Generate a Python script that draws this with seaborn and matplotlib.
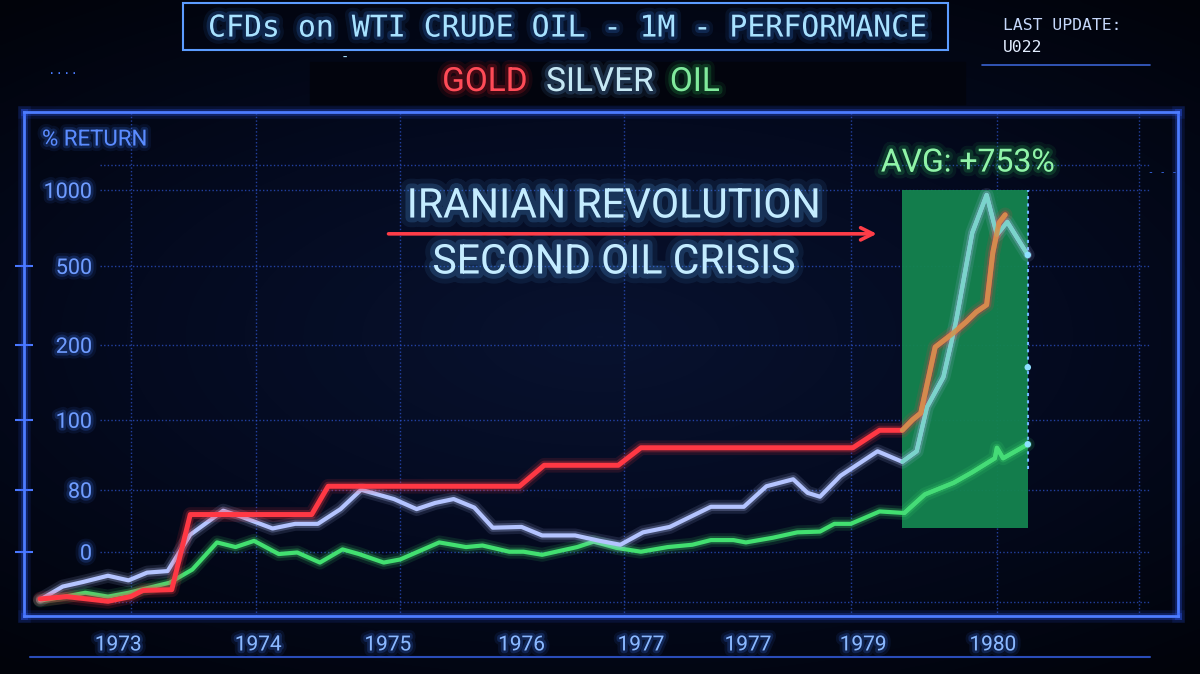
import matplotlib
matplotlib.use("Agg")
import matplotlib.pyplot as plt
import matplotlib.patheffects as pe
from matplotlib.patches import Rectangle
from matplotlib.lines import Line2D
import numpy as np
import pandas as pd
import seaborn as sns

# ---- data (% return), t = period index along the time axis ----
gold_t = [0, 1.3, 3.3, 4.4, 5.0, 6.4, 7.3, 13.2, 14.0, 23.3, 24.5, 28.1, 29.2, 39.5, 40.8, 41.9,
          42.4, 42.8, 43.5, 44.4, 45.0, 45.5, 46.0, 46.3, 46.6, 46.9]
gold_v = [-61, -58, -64, -58, -50, -49, 48, 48, 81, 81, 87, 87, 92, 92, 97, 97,
          100, 109, 197, 246, 287, 325, 352, 586, 783, 836]

silver_t = [0, 1.1, 2.1, 3.3, 4.3, 5.2, 6.2, 7.3, 8.9, 9.7, 11.3, 12.4, 13.5, 14.6, 15.6, 17.2,
            18.3, 19.2, 20.1, 21.1, 22.0, 23.4, 24.4, 26.0, 27.2, 28.2, 29.3, 30.6, 32.6, 34.2,
            35.3, 36.6, 37.3, 37.9, 38.9, 40.7, 41.9, 42.6, 43.1, 43.9, 44.5, 45.3, 46.0, 46.5,
            47.0, 48.0]
silver_v = [-62, -45, -39, -31, -37, -27, -25, 22, 53, 46, 30, 36, 36, 55, 80, 68,
            55, 63, 68, 57, 31, 32, 21, 21, 14, 9, 25, 32, 58, 58,
            81, 83, 76, 71, 84, 91, 88, 91, 117, 157, 284, 717, 967, 704,
            790, 572]

oil_t = [0, 1.2, 2.2, 3.3, 4.3, 6.3, 7.4, 8.6, 9.5, 10.4, 11.6, 12.5, 13.6, 14.7, 15.5, 16.7,
         17.5, 19.4, 20.7, 21.5, 22.8, 23.5, 24.4, 26.1, 26.9, 28.0, 29.2, 30.5, 31.7, 32.6,
         33.7, 34.3, 35.6, 36.8, 37.9, 38.6, 39.4, 40.8, 42.0, 43.0, 44.4, 45.3, 46.4, 46.5,
         46.8, 48.0]
oil_v = [-63, -58, -53, -58, -53, -40, -23, 12, 6, 14, -3, -1, -14, 3, -3, -14,
         -10, 12, 6, 8, 0, 0, -4, 6, 13, 5, 0, 6, 9, 15,
         15, 12, 18, 25, 26, 36, 36, 52, 50, 74, 82, 85, 89, 92,
         89, 93]

year_ticks = [3.8, 10.6, 16.9, 23.4, 29.2, 34.4, 40.0, 46.3]
year_labels = ["1973", "1974", "1975", "1976", "1977", "1977", "1979", "1980"]
vgrid_t = [4.4, 10.5, 17.5, 28.4, 39.4, 46.5, 53.4]

y_ticks = [0, 80, 100, 200, 500, 1000]
y_extra_grid = [-65, 1165]

spike_start, spike_end = 41.9, 48.0      # highlighted window
spike_low, spike_high = 31, 1000
end_dots = [572, 170, 93]
arrow_from, arrow_to, arrow_level = 16.8, 40.8, 711

# non-uniform return axis (screen-style spacing of the labels)
SCALE_V = [-200, 0, 80, 100, 200, 500, 1000, 3000]
SCALE_P = [-155, 0, 62, 132, 207, 286, 362, 666]


def fwd(v):
    return np.interp(v, SCALE_V, SCALE_P)


def inv(p):
    return np.interp(p, SCALE_P, SCALE_V)


def glow(c, w):
    return [pe.Stroke(linewidth=w + 7, foreground=c, alpha=0.12),
            pe.Stroke(linewidth=w + 3, foreground=c, alpha=0.25),
            pe.Normal()]


def tglow(c, w=4, a=0.18):
    return [pe.Stroke(linewidth=w * 2, foreground=c, alpha=a * 0.45),
            pe.Stroke(linewidth=w, foreground=c, alpha=a),
            pe.Normal()]


def fx(x):
    return x / 1200


def fy(y):
    return 1 - y / 674


sns.set_theme(style="dark")
plt.rcParams["font.family"] = ["Roboto", "DejaVu Sans"]

fig = plt.figure(figsize=(12, 6.74), dpi=100)
fig.patch.set_facecolor("#02050f")

# vignette background
bg = fig.add_axes([0, 0, 1, 1], zorder=-10)
gx, gy = np.meshgrid(np.linspace(-1, 1, 240), np.linspace(-1, 1, 135))
rr = np.sqrt((gx * 0.9) ** 2 + (gy * 1.1) ** 2)
bg.imshow(-rr, cmap=sns.blend_palette(["#01030a", "#040a1f", "#08122f"], as_cmap=True),
          aspect="auto", extent=[0, 1, 0, 1], interpolation="bicubic")
bg.set_axis_off()

ax = fig.add_axes([fx(24), fy(616), fx(1178 - 24), (616 - 112) / 674])
ax.set_facecolor("none")
ax.set_yscale("function", functions=(fwd, inv))
ax.set_xlim(-0.78, 55.3)
ax.set_ylim(-83, 1513)

# grid
grid_kw = dict(color="#3058d8", lw=1.0, ls=(0, (1, 1.6)), alpha=0.7, zorder=1)
for v in y_ticks + y_extra_grid:
    ax.axhline(v, xmin=0.066, xmax=0.976, **grid_kw)
for t in vgrid_t:
    ax.axvline(t, **grid_kw)

# highlighted spike window
ax.fill_between([spike_start, spike_end], spike_low, spike_high, color="#14844f", alpha=0.95,
                zorder=2, lw=0)
ax.plot([spike_end, spike_end], [86, spike_high], color="#6fb6ff", lw=1.5, ls=(0, (1.5, 2)),
        zorder=2.5)

gold = pd.DataFrame({"t": gold_t, "v": gold_v})
silver = pd.DataFrame({"t": silver_t, "v": silver_v})
oil = pd.DataFrame({"t": oil_t, "v": oil_v})

series = [
    (oil, "#42e070", "#46dc78", 3.0),
    (silver, "#b4c4ff", "#74d6c6", 3.0),
    (gold, "#ff3844", "#cf9550", 3.6),
]
for df, col, hi_col, lw in series:
    sns.lineplot(data=df, x="t", y="v", ax=ax, color=col, lw=lw, sort=False, estimator=None,
                 zorder=3)
    ax.lines[-1].set_path_effects(glow(col, lw))
    hi = df[df["t"] >= spike_start]
    sns.lineplot(data=hi, x="t", y="v", ax=ax, color=hi_col, lw=lw, sort=False,
                 estimator=None, zorder=4, alpha=0.9)

ax.scatter([spike_end] * len(end_dots), end_dots, s=22, color="#8fe0ff", zorder=5,
           edgecolor="none")

ax.annotate("", xy=(arrow_to, arrow_level), xytext=(arrow_from, arrow_level),
            arrowprops=dict(arrowstyle="->", color="#ff3d48", lw=2.6, mutation_scale=22),
            zorder=5)

# axes styling
ax.set_xticks(year_ticks, year_labels)
ax.set_yticks(y_ticks, [str(v) for v in y_ticks])
ax.tick_params(axis="x", length=0, pad=14, labelsize=15, labelcolor="#8ab8ff")
ax.tick_params(axis="y", left=True, direction="inout", length=13, width=1.5, color="#4a78ff",
               pad=-55.5, labelsize=15.5, labelcolor="#6f9cff")
ax.yaxis.get_major_ticks()[-1].tick1line.set_visible(False)
for lab in ax.get_xticklabels() + ax.get_yticklabels():
    lab.set_path_effects(tglow("#3d7bff", 4, 0.2))
ax.set_xlabel("")
ax.set_ylabel("")
for sp in ax.spines.values():
    sp.set_visible(True)
    sp.set_color("#4d7cff")
    sp.set_linewidth(2)
    sp.set_path_effects(glow("#2f5cff", 2))

# header and decorations
fig.add_artist(Rectangle((fx(183), fy(50)), fx(765), 47 / 674, fill=False, ec="#5c9cff",
                         lw=1.5, transform=fig.transFigure))
fig.add_artist(Rectangle((fx(310), fy(104)), fx(655), 42 / 674, color="#02040d",
                         transform=fig.transFigure, zorder=-5))
fig.text(fx(568), fy(28), "CFDs on WTI CRUDE OIL - 1M - PERFORMANCE", family="DejaVu Sans Mono",
         size=21.5, color="#a8e2ff", ha="center", va="center", path_effects=tglow("#3d8cff", 5))
fig.text(fx(345), fy(58), "-", family="DejaVu Sans Mono", size=10, color="#a8e2ff",
         ha="center", va="center")
fig.text(fx(1003), fy(25), "LAST UPDATE:", family="DejaVu Sans Mono", size=11.8,
         color="#c6d8fb", ha="left", va="center")
fig.text(fx(1003), fy(47), "U022", family="DejaVu Sans Mono", size=11.8, color="#e2edff",
         ha="left", va="center")
fig.add_artist(Line2D([fx(982), fx(1150)], [fy(65), fy(65)], color="#3a62d0", lw=1.2))
fig.add_artist(Line2D([fx(30), fx(1150)], [fy(657), fy(657)], color="#2a4cb8", lw=1.5))
fig.text(fx(48), fy(70), "....", family="DejaVu Sans Mono", size=9, color="#4a7cff",
         ha="left", va="center")
fig.text(fx(1148), fy(172), "- - -", family="DejaVu Sans Mono", size=7, color="#3a6cf0",
         ha="left", va="center")

fig.text(fx(485), fy(82), "GOLD", size=24, color="#ff4b57", ha="center", va="center",
         path_effects=tglow("#ff2030", 5))
fig.text(fx(600), fy(82), "SILVER", size=24, color="#c6e8f4", ha="center", va="center",
         path_effects=tglow("#6fb8ff", 5))
fig.text(fx(695), fy(82), "OIL", size=24, color="#80ea9c", ha="center", va="center",
         path_effects=tglow("#30d060", 5))

fig.text(fx(42), fy(140), "% RETURN", size=16, color="#5b8cff", ha="left", va="center",
         path_effects=tglow("#3d7bff", 4))
fig.text(fx(614), fy(206), "IRANIAN REVOLUTION", size=29.5, color="#c4ecff", ha="center",
         va="center", path_effects=tglow("#5ab0ff", 7))
fig.text(fx(614), fy(262), "SECOND OIL CRISIS", size=29.5, color="#c4ecff", ha="center",
         va="center", path_effects=tglow("#5ab0ff", 7))
fig.text(fx(968), fy(163), "AVG: +753%", size=23, color="#90f4a8", ha="center", va="center",
         path_effects=tglow("#30d060", 5))

fig.savefig("out.png", dpi=100, facecolor=fig.get_facecolor())
